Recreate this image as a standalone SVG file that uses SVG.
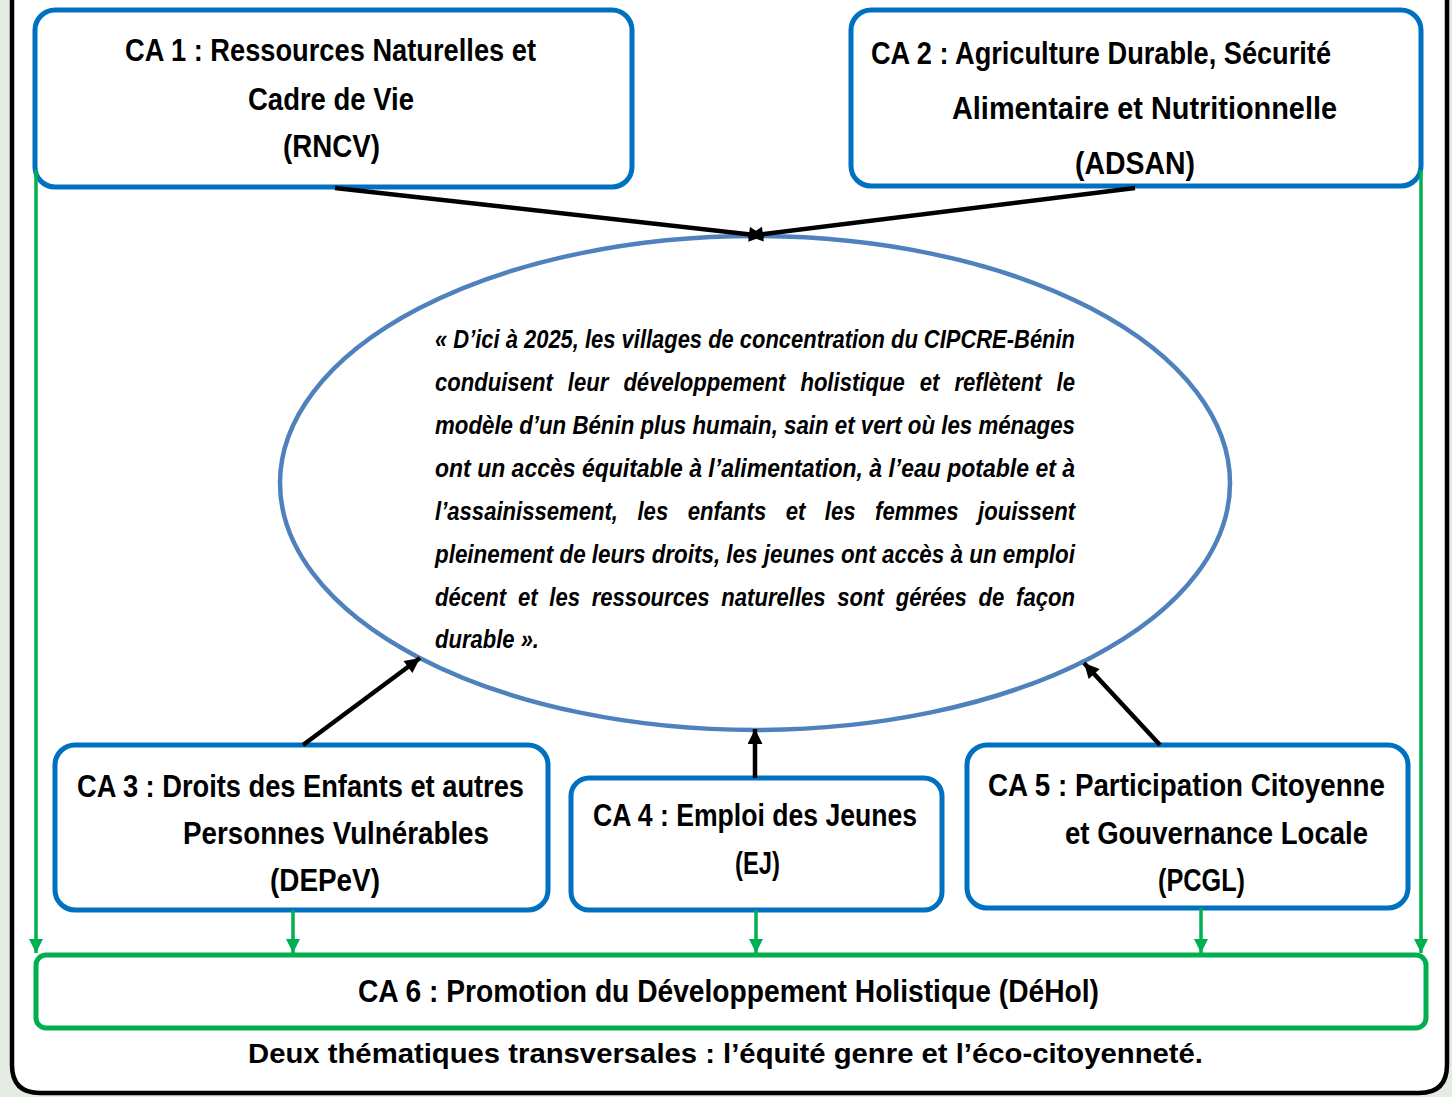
<svg xmlns="http://www.w3.org/2000/svg" width="1452" height="1097" viewBox="0 0 1452 1097">
<defs>
<style>
.bg{fill:#e3ebe3}
.frame{fill:#ffffff;stroke:#000000;stroke-width:4.5}
.box{fill:#ffffff;stroke:#0070C0;stroke-width:5}
.gbox{fill:#ffffff;stroke:#00B050;stroke-width:5}
.vis{fill:#ffffff;stroke:#4F81BD;stroke-width:4.5}
.lbl{font-family:"Liberation Sans",Arial,sans-serif;font-weight:bold;fill:#000000}
.t28{font-size:31px}
.t30{font-size:32px}
.vt{font-family:"Liberation Sans",Arial,sans-serif;font-weight:bold;font-style:italic;font-size:26px;fill:#000000}
.foot{font-family:"Liberation Sans",Arial,sans-serif;font-weight:bold;font-size:28px;fill:#000000}
.blk{stroke:#000000;stroke-width:4.5;fill:none;marker-end:url(#ab)}
.grn{stroke:#00B050;stroke-width:3.5;fill:none;marker-end:url(#ag)}
</style>
<marker id="ab" viewBox="0 0 10 10" refX="10" refY="5" markerWidth="19" markerHeight="15" markerUnits="userSpaceOnUse" orient="auto">
<path d="M0,0 L10,5 L0,10 z" fill="#000000"/>
</marker>
<marker id="ag" viewBox="0 0 10 10" refX="10" refY="5" markerWidth="18" markerHeight="14" markerUnits="userSpaceOnUse" orient="auto">
<path d="M0,0 L10,5 L0,10 z" fill="#00B050"/>
</marker>
</defs>
<rect class="bg" x="0" y="0" width="1452" height="1097"/>
<path class="frame" d="M12,-20 V1065 Q12,1093 40,1093 H1419 Q1447,1093 1447,1065 V-20 Z"/>

<g id="vision">
<ellipse class="vis" cx="755" cy="483" rx="475" ry="247"/>
<text class="vt" x="435" y="348" textLength="640" lengthAdjust="spacingAndGlyphs">« D’ici à 2025, les villages de concentration du CIPCRE-Bénin</text>
<text class="vt" x="435" y="391" textLength="640" lengthAdjust="spacingAndGlyphs" word-spacing="10.5">conduisent leur développement holistique et reflètent le</text>
<text class="vt" x="435" y="434" textLength="640" lengthAdjust="spacingAndGlyphs">modèle d’un Bénin plus humain, sain et vert où les ménages</text>
<text class="vt" x="435" y="477" textLength="640" lengthAdjust="spacingAndGlyphs">ont un accès équitable à l’alimentation, à l’eau potable et à</text>
<text class="vt" x="435" y="520" textLength="640" lengthAdjust="spacingAndGlyphs" word-spacing="15.7">l’assainissement, les enfants et les femmes jouissent</text>
<text class="vt" x="435" y="563" textLength="640" lengthAdjust="spacingAndGlyphs">pleinement de leurs droits, les jeunes ont accès à un emploi</text>
<text class="vt" x="435" y="606" textLength="640" lengthAdjust="spacingAndGlyphs" word-spacing="6.6">décent et les ressources naturelles sont gérées de façon</text>
<text class="vt" x="435" y="648" textLength="104" lengthAdjust="spacingAndGlyphs">durable ».</text>
</g>

<g id="ca1">
<rect class="box" x="35" y="10" width="597" height="177" rx="20"/>
<text class="lbl t28" x="125" y="61" textLength="411" lengthAdjust="spacingAndGlyphs">CA 1 : Ressources Naturelles et</text>
<text class="lbl t28" x="248" y="110" textLength="166" lengthAdjust="spacingAndGlyphs">Cadre de Vie</text>
<text class="lbl t28" x="283" y="157" textLength="97" lengthAdjust="spacingAndGlyphs">(RNCV)</text>
</g>

<g id="ca2">
<rect class="box" x="851" y="10" width="570" height="176" rx="20"/>
<text class="lbl t28" x="871" y="64" textLength="460" lengthAdjust="spacingAndGlyphs">CA 2 : Agriculture Durable, Sécurité</text>
<text class="lbl t28" x="952" y="119" textLength="385" lengthAdjust="spacingAndGlyphs">Alimentaire et Nutritionnelle</text>
<text class="lbl t28" x="1075" y="174" textLength="120" lengthAdjust="spacingAndGlyphs">(ADSAN)</text>
</g>

<g id="ca3">
<rect class="box" x="55" y="745" width="493" height="165" rx="20"/>
<text class="lbl t30" x="77" y="797" textLength="447" lengthAdjust="spacingAndGlyphs">CA 3 : Droits des Enfants et autres</text>
<text class="lbl t30" x="183" y="844" textLength="306" lengthAdjust="spacingAndGlyphs">Personnes Vulnérables</text>
<text class="lbl t30" x="270" y="891" textLength="110" lengthAdjust="spacingAndGlyphs">(DEPeV)</text>
</g>

<g id="ca4">
<rect class="box" x="571" y="778" width="371" height="132" rx="18"/>
<text class="lbl t30" x="593" y="826" textLength="324" lengthAdjust="spacingAndGlyphs">CA 4 : Emploi des Jeunes</text>
<text class="lbl t30" x="735" y="874" textLength="45" lengthAdjust="spacingAndGlyphs">(EJ)</text>
</g>

<g id="ca5">
<rect class="box" x="967" y="745" width="441" height="163" rx="20"/>
<text class="lbl t30" x="988" y="796" textLength="397" lengthAdjust="spacingAndGlyphs">CA 5 : Participation Citoyenne</text>
<text class="lbl t30" x="1065" y="844" textLength="303" lengthAdjust="spacingAndGlyphs">et Gouvernance Locale</text>
<text class="lbl t30" x="1158" y="891" textLength="87" lengthAdjust="spacingAndGlyphs">(PCGL)</text>
</g>

<g id="ca6">
<rect class="gbox" x="36" y="955" width="1390" height="73" rx="10"/>
<text class="lbl t30" x="358" y="1002" textLength="741" lengthAdjust="spacingAndGlyphs">CA 6 : Promotion du Développement Holistique (DéHol)</text>
</g>

<g id="footer">
<text class="foot" x="248" y="1063" textLength="955" lengthAdjust="spacingAndGlyphs">Deux thématiques transversales : l’équité genre et l’éco-citoyenneté.</text>
</g>

<g id="connectors">
<line class="blk" x1="335" y1="188" x2="764" y2="236"/>
<line class="blk" x1="1135" y1="188" x2="748" y2="236"/>
<line class="blk" x1="303" y1="745" x2="420" y2="658"/>
<line class="blk" x1="755" y1="778" x2="755" y2="729"/>
<line class="blk" x1="1160" y1="745" x2="1084" y2="663"/>
<line class="grn" x1="36" y1="170" x2="36" y2="953"/>
<line class="grn" x1="1421" y1="170" x2="1421" y2="953"/>
<line class="grn" x1="293" y1="910" x2="293" y2="953"/>
<line class="grn" x1="756" y1="910" x2="756" y2="953"/>
<line class="grn" x1="1201" y1="908" x2="1201" y2="953"/>
</g>
</svg>
